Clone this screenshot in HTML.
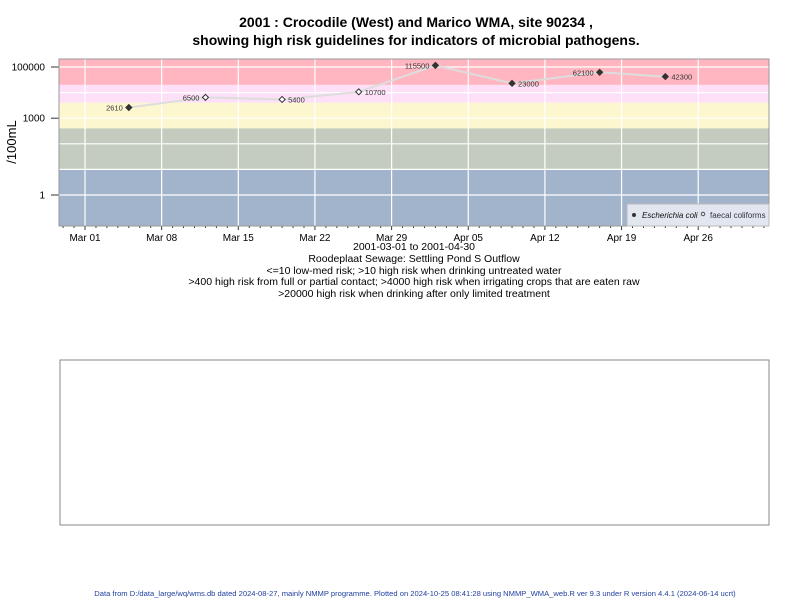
<!DOCTYPE html>
<html><head><meta charset="utf-8"><style>
body{margin:0;background:#fff}
svg{display:block;font-family:"Liberation Sans",Arial,sans-serif}
</style></head><body>
<svg id="chart" width="800" height="600" viewBox="0 0 800 600">
<g font-weight="bold" font-size="14" text-anchor="middle" fill="#000">
<text x="416" y="27">2001 : Crocodile (West) and Marico WMA, site 90234 ,</text>
<text x="416" y="45">showing high risk guidelines for indicators of microbial pathogens.</text>
</g>
<g id="bands"></g>
<g id="grid"></g>
<g id="axes"></g>
<g id="series"></g>
<rect x="59" y="59" width="710" height="167" fill="none" stroke="#999" stroke-width="1"/>
<text x="16" y="142" font-size="13" text-anchor="middle" transform="rotate(-90 16 142)">/100mL</text>
<g>
<rect x="627" y="204" width="142" height="22" fill="#e2e6ee" stroke="#bbb"/>
<circle cx="634" cy="215" r="2" fill="#333"/>
<text x="642" y="218" font-size="8" font-style="italic" fill="#111">Escherichia coli</text>
<circle cx="703" cy="214" r="1.8" fill="none" stroke="#333" stroke-width="0.8"/>
<text x="710" y="218" font-size="8" fill="#334">faecal coliforms</text>
</g>
<g font-size="10.5" text-anchor="middle" fill="#000">
<text x="414" y="250">2001-03-01 to 2001-04-30</text>
<text x="414" y="262">Roodeplaat Sewage: Settling Pond S Outflow</text>
<text x="414" y="274">&lt;=10 low-med risk; &gt;10 high risk when drinking untreated water</text>
<text x="414" y="285">&gt;400 high risk from full or partial contact; &gt;4000 high risk when irrigating crops that are eaten raw</text>
<text x="414" y="297">&gt;20000 high risk when drinking after only limited treatment</text>
</g>
<rect x="60" y="360" width="709" height="165" fill="none" stroke="#888"/>
<text x="415" y="596" font-size="7.6" text-anchor="middle" fill="#1f3f9f">Data from D:/data_large/wq/wms.db dated 2024-08-27, mainly NMMP programme. Plotted on 2024-10-25 08:41:28 using NMMP_WMA_web.R ver 9.3 under R version 4.4.1 (2024-06-14 ucrt)</text>
</svg>
<script>
const days=[4,11,18,25,32,39,47,53];
const values=[2610,6500,5400,10700,115500,23000,62100,42300];
const isEcoli=[true,false,false,false,true,true,true,true];
const labelLeft=[true,true,false,false,true,false,true,false];
const yTickValues=[1,1000,100000];
const yTickLabels=["1","1000","100000"];
const gridValues=[1,10,100,1000,10000,100000];
const xTickDays=[0,7,14,21,28,35,42,49,56];
const xTickLabels=["Mar 01","Mar 08","Mar 15","Mar 22","Mar 29","Apr 05","Apr 12","Apr 19","Apr 26"];
const bandLimits=[1e6,20000,4000,400,10,0.01];
const bandColors=["#ffb6c1","#fde0f8","#fdf7cf","#c3ccbf","#a2b3cc"];

const NS="http://www.w3.org/2000/svg";
const L=59,R=769,T=59,B=226;
const x=d=>85+d*10.95;
const y=v=>Math.max(T,Math.min(B,195-25.6*Math.log10(v)));
function mk(tag,attrs,parent){const e=document.createElementNS(NS,tag);for(const k in attrs)e.setAttribute(k,attrs[k]);parent.appendChild(e);return e;}
const gB=document.getElementById('bands'),gG=document.getElementById('grid'),gA=document.getElementById('axes'),gS=document.getElementById('series');
for(let i=0;i<bandColors.length;i++){
 const y0=y(bandLimits[i]),y1=y(bandLimits[i+1]);
 const r=mk('rect',{x:L,y:y0,width:R-L,height:y1-y0,fill:bandColors[i]},gB);
 
 
}
gridValues.forEach(v=>{
 const l=mk('line',{x1:L,x2:R,y1:y(v),y2:y(v),stroke:'#fff','stroke-width':1.2},gG);
 
 
});
xTickDays.forEach((d,i)=>{
 const l=mk('line',{x1:x(d),x2:x(d),y1:T,y2:B,stroke:'#fff','stroke-width':1.2},gG);
 
 
 const t=mk('line',{x1:x(d),x2:x(d),y1:B,y2:B+4,stroke:'#333'},gA);
 
 
 const tx=mk('text',{x:x(d),y:B+15,'font-size':10,'text-anchor':'middle',fill:'#000'},gA);
 tx.textContent=xTickLabels[i];
 
 
});
for(let d=-2;d<=62;d++){if(d%7===0)continue;
 const m=mk('line',{x1:x(d),x2:x(d),y1:B,y2:B+2,stroke:'#333'},gA);
 
 
}
yTickValues.forEach((v,i)=>{
 const t=mk('line',{x1:L-8,x2:L,y1:y(v),y2:y(v),stroke:'#333'},gA);
 
 
 const tx=mk('text',{x:L-14,y:y(v)+3.5,'font-size':10,'text-anchor':'end',fill:'#000'},gA);
 tx.textContent=yTickLabels[i];
 
 
});
const pl=mk('polyline',{points:days.map((d,i)=>x(d)+','+y(values[i])).join(' '),fill:'none',stroke:'#ddd','stroke-width':2},gS);


days.forEach((d,i)=>{
 const cx=x(d),cy=y(values[i]);
 const p=mk('path',{d:`M${cx} ${cy-3}L${cx+3} ${cy}L${cx} ${cy+3}L${cx-3} ${cy}Z`,fill:isEcoli[i]?'#333':'#fff',stroke:'#333','stroke-width':1},gS);
 
 
 const t=mk('text',{x:labelLeft[i]?cx-6:cx+6,y:cy+3,'font-size':7.5,'text-anchor':labelLeft[i]?'end':'start',fill:'#333'},gS);
 t.textContent=values[i];
 
 
});
</script>
</body></html>
